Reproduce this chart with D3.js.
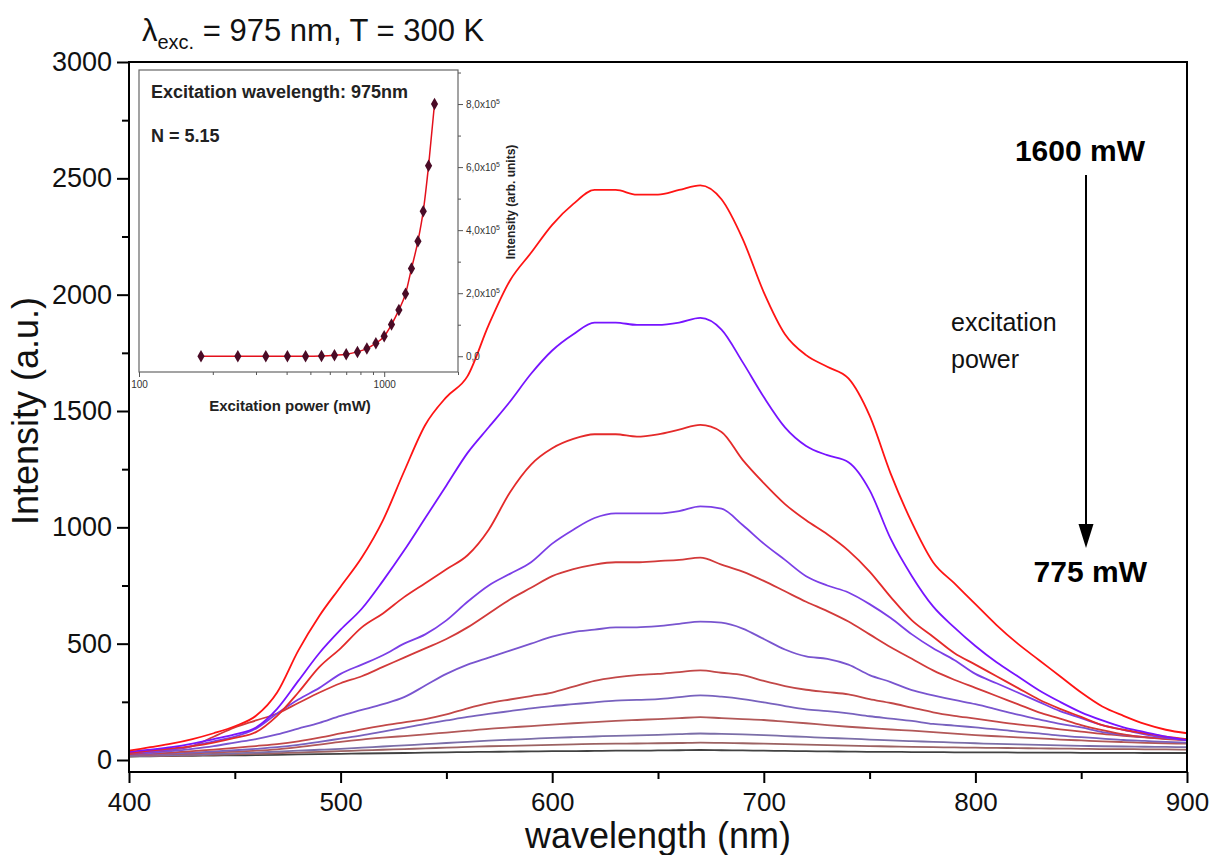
<!DOCTYPE html>
<html>
<head>
<meta charset="utf-8">
<script src="https://cdn.jsdelivr.net/npm/d3@7"></script>
<style>
  body { margin: 0; background: #fff; }
  svg { display: block; font-family: 'Liberation Sans', Arial, sans-serif; }
</style>
</head>
<body>
<svg id="chart" width="1210" height="855"></svg>
<script>
// emission spectra, one value every 10 nm from 400 to 900 nm
const wavelength = d3.range(400, 901, 10);

const s1600 = [40, 55, 70, 90, 115, 145, 190, 290, 470, 620,
  745, 870, 1030, 1240, 1440, 1560, 1650, 1870, 2060, 2180,
  2300, 2390, 2450, 2450, 2430, 2430, 2450, 2470, 2410, 2240,
  2010, 1830, 1740, 1690, 1640, 1480, 1230, 1020, 850, 760,
  670, 580, 500, 430, 360, 290, 230, 190, 155, 130, 115];

const s1520 = [35, 45, 55, 70, 90, 110, 140, 220, 340, 460,
  560, 650, 770, 900, 1040, 1180, 1320, 1430, 1540, 1660,
  1760, 1830, 1880, 1880, 1870, 1870, 1880, 1900, 1850, 1710,
  1560, 1430, 1350, 1310, 1280, 1160, 950, 790, 660, 570,
  490, 420, 360, 300, 250, 205, 170, 140, 120, 100, 85];

const s1445 = [30, 40, 50, 60, 75, 95, 120, 190, 290, 400,
  480, 570, 630, 700, 760, 820, 880, 990, 1150, 1270,
  1340, 1380, 1400, 1400, 1390, 1400, 1420, 1440, 1410, 1290,
  1190, 1100, 1030, 970, 900, 810, 700, 600, 530, 460,
  410, 360, 310, 260, 220, 185, 150, 130, 115, 100, 90];

const s1375 = [30, 35, 45, 60, 80, 100, 135, 200, 260, 310,
  370, 410, 450, 500, 540, 600, 680, 750, 800, 850,
  930, 990, 1040, 1060, 1060, 1060, 1070, 1090, 1080, 1010,
  930, 860, 790, 750, 720, 670, 610, 540, 480, 430,
  370, 330, 290, 250, 210, 180, 150, 130, 110, 95, 85];

const s1290 = [25, 35, 45, 60, 100, 140, 170, 200, 245, 290,
  330, 360, 400, 440, 480, 520, 570, 630, 690, 740,
  790, 820, 840, 850, 850, 855, 860, 870, 840, 810,
  770, 725, 680, 640, 595, 540, 485, 435, 385, 345,
  310, 275, 240, 205, 178, 150, 128, 110, 98, 90, 85];

const s1220 = [25, 30, 38, 48, 60, 75, 90, 110, 135, 160,
  190, 215, 240, 270, 320, 370, 410, 440, 470, 500,
  530, 550, 560, 570, 570, 575, 585, 595, 590, 565,
  520, 475, 445, 435, 410, 365, 335, 300, 278, 258,
  240, 218, 195, 175, 155, 140, 120, 108, 98, 92, 88];

const s1150 = [25, 28, 32, 38, 45, 52, 60, 68, 80, 96,
  114, 132, 148, 162, 176, 196, 222, 244, 260, 275,
  290, 315, 340, 355, 365, 370, 378, 385, 375, 365,
  340, 318, 302, 292, 282, 262, 245, 225, 205, 190,
  178, 165, 153, 143, 132, 122, 112, 104, 97, 92, 88];

const s1070 = [22, 25, 28, 32, 37, 42, 48, 55, 65, 78,
  92, 106, 122, 138, 155, 170, 185, 198, 210, 222,
  232, 240, 248, 255, 258, 262, 270, 278, 272, 262,
  248, 232, 218, 210, 200, 188, 178, 168, 155, 148,
  140, 132, 122, 114, 105, 98, 92, 86, 82, 78, 75];

const s1000 = [20, 22, 25, 28, 32, 36, 40, 46, 55, 66,
  78, 88, 96, 103, 110, 118, 126, 134, 140, 146,
  152, 158, 163, 168, 172, 176, 180, 184, 180, 176,
  172, 165, 158, 150, 143, 137, 131, 126, 120, 113,
  107, 102, 97, 93, 88, 84, 80, 77, 74, 72, 70];

const s925 = [18, 19, 21, 23, 26, 29, 32, 36, 40, 44,
  48, 53, 58, 63, 68, 73, 78, 83, 87, 91,
  95, 98, 101, 104, 106, 108, 111, 114, 112, 110,
  107, 103, 99, 95, 92, 88, 84, 81, 78, 75,
  72, 69, 67, 65, 63, 61, 59, 58, 57, 56, 55];

const s850 = [16, 17, 18, 20, 22, 24, 26, 29, 32, 35,
  38, 41, 44, 47, 50, 53, 56, 59, 61, 63,
  65, 67, 69, 70, 71, 72, 73, 75, 74, 72,
  70, 68, 66, 64, 62, 60, 58, 56, 55, 54,
  53, 52, 51, 50, 49, 48, 47, 47, 46, 46, 45];

const s775 = [15, 16, 17, 18, 19, 20, 21, 22, 24, 25,
  26, 28, 29, 30, 32, 33, 34, 35, 36, 37,
  38, 38, 39, 40, 40, 41, 42, 43, 42, 41,
  40, 39, 38, 37, 36, 35, 35, 34, 34, 33,
  33, 33, 32, 32, 32, 31, 31, 31, 30, 30, 30];

const spectra = [s1600, s1520, s1445, s1375, s1290, s1220, s1150, s1070, s1000, s925, s850, s775];
const lineColors = ['#ff1414', '#7714ff', '#e42a2a', '#7b3fe6', '#d23a3a', '#7955cf',
  '#c24848', '#7862be', '#b25858', '#7b6ea8', '#9c6262', '#424242'];

const xTicks = [400, 500, 600, 700, 800, 900];
const xMinor = [450, 550, 650, 750, 850];
const yTicks = [0, 500, 1000, 1500, 2000, 2500, 3000];
const yMinor = [250, 750, 1250, 1750, 2250, 2750];

// inset: integrated intensity against excitation power
const insetPower = [179, 253, 329, 403, 478, 555, 627, 700, 778, 850,
  925, 1000, 1071, 1148, 1222, 1292, 1373, 1443, 1517, 1604];
const insetIntensity = [0, 0, 0, 0, 0, 1000, 3200, 6300, 13800, 24300,
  41300, 63500, 100500, 147000, 198000, 278000, 365000, 460000, 604000, 800000];
const insetXTicks = [100, 1000];
const insetXMinor = [200, 300, 400, 500, 600, 700, 800, 900, 2000];
const insetYTicks = [0, 200000, 400000, 600000, 800000];
const insetYMinor = [100000, 300000, 500000, 700000, 900000];

const svg = d3.select('#chart');

const x = d3.scaleLinear().domain([400, 900]).range([129, 1187]);
const y = d3.scaleLinear().domain([0, 3000]).range([760, 62]);

const line = d3
  .line()
  .x((d, i) => x(wavelength[i]))
  .y((d) => y(d))
  .curve(d3.curveMonotoneX);

svg
  .append('g')
  .selectAll('path')
  .data(spectra.map((values, i) => ({ values, color: lineColors[i] })).reverse())
  .join('path')
  .attr('d', (d) => line(d.values))
  .attr('fill', 'none')
  .attr('stroke', (d) => d.color)
  .attr('stroke-width', 1.8)
  .attr('stroke-linejoin', 'round');

svg
  .append('rect')
  .attr('x', 129)
  .attr('y', 62)
  .attr('width', 1058)
  .attr('height', 710)
  .attr('fill', 'none')
  .attr('stroke', '#000')
  .attr('stroke-width', 2);

function styleAxis(size) {
  return (g) => {
    g.select('.domain').remove();
    g.selectAll('line').attr('stroke', '#000').attr('stroke-width', 2);
    g.selectAll('text').attr('fill', '#111').style('font-size', size + 'px');
  };
}

svg
  .append('g')
  .attr('transform', 'translate(0,772)')
  .call(d3.axisBottom(x).tickValues(xTicks).tickSize(11).tickPadding(10).tickFormat(d3.format('d')))
  .call(styleAxis(26));

svg
  .append('g')
  .attr('transform', 'translate(0,772)')
  .call(d3.axisBottom(x).tickValues(xMinor).tickSize(7).tickFormat(''))
  .call(styleAxis(26));

svg
  .append('g')
  .attr('transform', 'translate(129,0)')
  .call(d3.axisLeft(y).tickValues(yTicks).tickSize(12).tickPadding(5).tickFormat(d3.format('d')))
  .call(styleAxis(27));

svg
  .append('g')
  .attr('transform', 'translate(129,0)')
  .call(d3.axisLeft(y).tickValues(yMinor).tickSize(7).tickFormat(''))
  .call(styleAxis(27));

svg
  .append('text')
  .attr('x', 658)
  .attr('y', 848)
  .attr('text-anchor', 'middle')
  .style('font-size', '36px')
  .attr('fill', '#111')
  .text('wavelength (nm)');

svg
  .append('text')
  .attr('transform', 'translate(38,411) rotate(-90)')
  .attr('text-anchor', 'middle')
  .style('font-size', '36px')
  .attr('fill', '#111')
  .text('Intensity (a.u.)');

const title = svg
  .append('text')
  .attr('x', 142)
  .attr('y', 41)
  .style('font-size', '31px')
  .attr('fill', '#111');
title.append('tspan').text('λ');
title.append('tspan').attr('dy', 8).style('font-size', '20px').text('exc.');
title.append('tspan').attr('dy', -8).text(' = 975 nm, T = 300 K');

// power annotation on the right
svg
  .append('text')
  .attr('x', 1145)
  .attr('y', 161)
  .attr('text-anchor', 'end')
  .style('font-size', '30px')
  .style('font-weight', 'bold')
  .text('1600 mW');

svg
  .append('text')
  .attr('x', 1147)
  .attr('y', 582)
  .attr('text-anchor', 'end')
  .style('font-size', '30px')
  .style('font-weight', 'bold')
  .text('775 mW');

svg
  .append('line')
  .attr('x1', 1086)
  .attr('x2', 1086)
  .attr('y1', 175)
  .attr('y2', 528)
  .attr('stroke', '#000')
  .attr('stroke-width', 2);

svg
  .append('path')
  .attr('d', 'M1078.5,524L1093.5,524L1086,548Z')
  .attr('fill', '#000');

svg
  .append('text')
  .attr('x', 951)
  .attr('y', 331)
  .style('font-size', '25px')
  .attr('fill', '#111')
  .text('excitation');

svg
  .append('text')
  .attr('x', 951)
  .attr('y', 368)
  .style('font-size', '25px')
  .attr('fill', '#111')
  .text('power');

// inset
const ix = d3.scaleLog().domain([100, 2000]).range([139, 458]);
const iy = d3.scaleLinear().domain([-50000, 908000]).range([372, 70]);

const inset = svg.append('g');

inset
  .append('rect')
  .attr('x', 139)
  .attr('y', 70)
  .attr('width', 319)
  .attr('height', 302)
  .attr('fill', '#fff')
  .attr('stroke', '#666')
  .attr('stroke-width', 1.2);

function styleInsetAxis(g) {
  g.select('.domain').remove();
  g.selectAll('line').attr('stroke', '#555').attr('stroke-width', 1);
  g.selectAll('text').attr('fill', '#333').style('font-size', '10px');
}

inset
  .append('g')
  .attr('transform', 'translate(0,372)')
  .call(d3.axisBottom(ix).tickValues(insetXTicks).tickSize(5).tickPadding(4).tickFormat(d3.format('d')))
  .call(styleInsetAxis);

inset
  .append('g')
  .attr('transform', 'translate(0,372)')
  .call(d3.axisBottom(ix).tickValues(insetXMinor).tickSize(3).tickFormat(''))
  .call(styleInsetAxis);

const rightAxis = inset
  .append('g')
  .attr('transform', 'translate(458,0)')
  .call(d3.axisRight(iy).tickValues(insetYTicks).tickSize(5).tickPadding(3))
  .call(styleInsetAxis);

rightAxis.selectAll('.tick text').each(function (d) {
  const t = d3.select(this).text('');
  if (d === 0) {
    t.text('0,0');
    return;
  }
  t.append('tspan').text((d / 1e5).toFixed(1).replace('.', ',') + 'x10');
  t.append('tspan').attr('dy', -4).style('font-size', '7px').text('5');
});

inset
  .append('g')
  .attr('transform', 'translate(458,0)')
  .call(d3.axisRight(iy).tickValues(insetYMinor).tickSize(3).tickFormat(''))
  .call(styleInsetAxis);

const insetLine = d3
  .line()
  .x((d, i) => ix(insetPower[i]))
  .y((d) => iy(d))
  .curve(d3.curveMonotoneX);

inset
  .append('path')
  .attr('d', insetLine(insetIntensity))
  .attr('fill', 'none')
  .attr('stroke', '#e3101c')
  .attr('stroke-width', 1.5);

inset
  .append('g')
  .selectAll('path')
  .data(insetIntensity)
  .join('path')
  .attr('transform', (d, i) => `translate(${ix(insetPower[i])},${iy(d)})`)
  .attr('d', d3.symbol().type(d3.symbolDiamond).size(45))
  .attr('fill', '#4a0b26');

inset
  .append('text')
  .attr('x', 151)
  .attr('y', 98)
  .style('font-size', '18px')
  .style('font-weight', 'bold')
  .attr('fill', '#222')
  .text('Excitation wavelength: 975nm');

inset
  .append('text')
  .attr('x', 151)
  .attr('y', 142)
  .style('font-size', '18px')
  .style('font-weight', 'bold')
  .attr('fill', '#222')
  .text('N = 5.15');

inset
  .append('text')
  .attr('x', 290)
  .attr('y', 411)
  .attr('text-anchor', 'middle')
  .style('font-size', '15px')
  .style('font-weight', 'bold')
  .attr('fill', '#222')
  .text('Excitation power (mW)');

inset
  .append('text')
  .attr('transform', 'translate(515,202) rotate(-90)')
  .attr('text-anchor', 'middle')
  .style('font-size', '12px')
  .style('font-weight', 'bold')
  .attr('fill', '#222')
  .text('Intensity (arb. units)');
</script>
</body>
</html>
